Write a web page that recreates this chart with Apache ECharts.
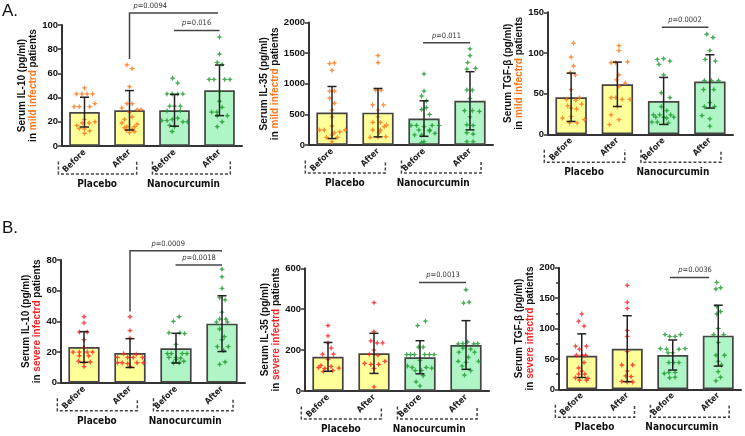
<!DOCTYPE html>
<html>
<head>
<meta charset="utf-8">
<script src="https://cdn.jsdelivr.net/npm/echarts@6/dist/echarts.min.js"></script>
<style>
html, body { margin: 0; padding: 0; background: #fff; }
#main { width: 745px; height: 436px; }
</style>
</head>
<body>
<div id="main"></div>
<script>
var cats = ['Before', 'After', 'Before', 'After'];
var groupNames = ['Placebo', 'Nanocurcumin'];

// A. mild patients
var il10MildMean = [28, 29.5, 29.5, 46];
var il10MildSd = [12.3, 16.3, 13.1, 20.9];
var il10MildPts = [
    [[0,48],[-0.53,43],[-0.17,43],[0.17,43],[0.53,43],[0.68,35],[-0.68,32.5],[-0.34,32.5],[0.34,32.5],[0,22],[0.68,20],[-0.15,19],[0.3,19],[-0.5,17],[-0.34,14.5],[0,14],[0.34,12.5],[0,10.5]],
    [[-0.17,67],[0.17,64],[0,49],[-0.17,35],[0.17,35],[-0.5,31.5],[0.5,30],[0.75,30],[0,28],[-0.33,22],[0.17,24],[-0.5,19],[0.5,18],[-0.17,16],[0.33,16],[-0.33,15],[0.17,14],[0,11],[0.33,12],[-0.2,13]],
    [[-0.13,56],[0.21,52],[-0.49,43],[-0.15,43],[0.21,43],[0.55,43],[-0.32,33],[0,33],[0.38,33],[-0.49,29],[0.38,29],[-0.83,21],[-0.49,21],[-0.15,22],[0.21,23],[0.55,20],[0.85,20],[-0.32,17],[0,16],[-0.15,12]],
    [[0,90],[0,76],[-0.15,69],[0.17,67.5],[-0.68,55],[-0.36,55],[0.34,55],[0.68,55],[0,45],[0,37],[0.17,32],[-0.51,28],[-0.17,28],[0.51,25],[-0.15,25],[0.17,20],[-0.15,16]]
];
var il10MildSig = [
    {p: '0.0094', x1: 1, x2: 2.97, y: 110, drop: 72, tx: 1.46},
    {p: '0.016', x1: 1.99, x2: 3, y: 95.5, tx: 2.49}
];

var il35MildMean = [530, 528, 432, 722];
var il35MildSd = [425, 395, 290, 475];
var il35MildPts = [
    [[-0.15,1330],[0.15,1340],[0,1220],[-0.15,880],[0.15,880],[-0.15,765],[0.15,680],[0,570],[0,460],[0,310],[-0.8,245],[-0.5,245],[0.85,245],[0.5,215],[-0.35,125],[0.35,125],[0,165],[0,55],[0.15,200]],
    [[0,1460],[0,1345],[-0.15,895],[0.2,895],[-0.35,655],[0.35,655],[0,570],[0,460],[-0.33,370],[0.15,370],[0.55,325],[0.4,300],[-0.33,245],[0.15,245],[-0.5,125],[0,125],[0.5,135],[0.1,210]],
    [[0,1160],[0,880],[-0.15,800],[0.15,720],[0.15,610],[-0.15,580],[0.35,500],[0,300],[-0.83,320],[-0.48,320],[0.52,320],[0.96,320],[-0.33,245],[0.37,245],[-0.6,165],[-0.15,165],[0.7,190],[0,55],[-0.15,40],[0.35,230]],
    [[0,1570],[0,1460],[-0.15,1345],[-0.2,1240],[0.35,1250],[-0.2,900],[0.15,895],[0,760],[-0.35,560],[0.15,560],[0.6,550],[0,460],[-0.2,330],[0.2,320],[-0.2,200],[0.2,180],[-0.2,55],[0.2,55]]
];
var il35MildSig = [
    {p: '0.011', x1: 1.98, x2: 3, y: 1671, tx: 2.49}
];

var tgfMildMean = [45.5, 61.5, 41, 65];
var tgfMildSd = [29.7, 27.3, 28.9, 32.8];
var tgfMildPts = [
    [[0.15,112],[0,95],[0.15,84],[-0.05,76],[0.27,73],[0,55],[-0.3,43],[0.3,42],[0.53,45],[-0.22,35],[0.67,37],[0,32],[0.35,31],[-0.55,20],[0,22],[0.85,18],[-0.1,14],[0.38,14]],
    [[0.1,109],[0.1,103],[-0.4,88],[-0.1,88],[0.65,89],[0.1,73],[-0.05,67],[0.5,63],[0.1,59],[-0.4,45],[-0.1,45],[0.3,43],[0.8,43],[0,34],[-0.4,24],[0.1,18],[-0.5,12]],
    [[-0.4,92],[0,93],[0.4,90],[-0.3,86],[0,73],[-0.15,51],[0.4,45],[-0.15,34],[0.2,29],[-0.65,24],[-0.25,24],[0.45,24],[-0.5,21],[0,21],[0.65,21],[-0.4,15],[0.3,14],[-0.75,15],[0.2,20]],
    [[-0.2,123],[0.2,119],[0,103],[-0.3,92],[0.35,90],[-0.35,66],[0.1,66],[0.55,66],[-0.4,55],[0.25,55],[0,39],[-0.35,34],[0.3,34],[-0.5,23],[0,19],[0,10]]
];
var tgfMildSig = [
    {p: '0.0002', x1: 1.96, x2: 2.97, y: 131.6, tx: 2.46}
];

// B. severe patients
var il10SevMean = [23.3, 19.3, 22.5, 38.5];
var il10SevSd = [10, 9.4, 9.7, 18.2];
var il10SevPts = [
    [[0,43],[0,39],[-0.3,33],[0.2,33],[0,28],[-0.7,20],[-0.3,20],[0.2,20],[0.55,20],[0,23],[-0.3,17.5],[0.3,17.5],[-0.35,14],[0,13],[0.4,13.5],[0,10.5]],
    [[0,43],[0,34],[0,29],[-0.4,19],[0.4,18.5],[-0.8,16.5],[-0.15,16.5],[0.2,16.5],[0.8,16.5],[-0.8,13],[-0.5,13],[-0.15,12.5],[0.45,13],[0.85,13],[0,10.5]],
    [[0.2,43],[-0.17,40],[-0.45,32.5],[0.25,32.5],[0.55,32],[0,25],[-0.55,19],[-0.3,19],[0.4,19],[0.7,19],[-0.45,16.5],[0,16.5],[0.3,16],[-0.17,13],[0.2,13],[0,15],[0.5,14]],
    [[0,74],[0,69],[0,61.5],[-0.15,55.5],[0.2,54],[0,46],[-0.15,41.5],[0.25,41.5],[-0.35,39.5],[0.35,39.5],[-0.15,35],[0.15,30],[0,28],[-0.3,23.5],[0.4,23.5],[0.1,21],[-0.15,12],[0.2,13.5]]
];
var il10SevSig = [
    {p: '0.0009', x1: 1, x2: 3, y: 86, drop: 46.5, tx: 1.83},
    {p: '0.0018', x1: 1.99, x2: 3, y: 76.7, tx: 2.5}
];

var il35SevMean = [167, 184, 165, 225];
var il35SevSd = [70.5, 98, 81, 119];
var il35SevPts = [
    [[0,320],[0,270],[0,235],[0.2,210],[-0.35,180],[0.35,180],[0,155],[-0.45,125],[-0.6,115],[0.2,120],[-0.2,110],[0.7,112],[-0.3,95],[0.3,100]],
    [[0,432],[0,290],[-0.2,245],[0.2,235],[0.55,235],[-0.3,180],[0,200],[0.25,175],[0.7,145],[-0.6,135],[-0.2,130],[0.3,130],[0,110],[0,20]],
    [[0.35,342],[-0.15,320],[-0.1,215],[0.2,215],[-0.85,178],[-0.6,178],[-0.35,178],[0.3,178],[0.6,178],[0.9,178],[0,150],[-0.8,122],[-0.5,115],[0.4,115],[0.75,112],[-0.3,100],[0.2,75],[-0.25,45],[0,25],[0.1,100]],
    [[0,495],[-0.15,430],[0.2,435],[0.1,240],[-0.5,230],[-0.2,232],[0.5,230],[0.75,232],[-0.2,210],[0.3,205],[-0.45,190],[0.55,190],[0.15,165],[-0.5,145],[0.8,145],[0,140],[-0.25,122],[0.3,100],[-0.1,78]]
];
var il35SevSig = [
    {p: '0.0013', x1: 1.98, x2: 3, y: 531, tx: 2.5}
];

var tgfSevMean = [55.3, 66.8, 56.4, 88.2];
var tgfSevSd = [35.9, 54.2, 24.7, 50.1];
var tgfSevPts = [
    [[0,124],[-0.2,112],[0.15,104],[-0.4,71],[0.3,71],[-0.15,66],[0,56],[-0.35,56],[0.25,56],[0.15,44],[-0.2,35],[0,30],[-0.2,25],[0.2,25],[-0.4,19],[0.3,15],[-0.15,15],[0.4,18]],
    [[0,171],[0,143],[0,133],[0,97],[0,87],[0,62],[-0.35,40],[0.35,40],[0,30],[-0.1,22],[0.25,21],[-0.35,13],[0.35,12],[0,12]],
    [[-0.5,90],[-0.2,87],[0.15,87],[0.5,90],[-0.8,67],[-0.4,66],[0.4,66],[0.8,67],[-0.3,60],[0,60],[-0.25,44],[0.05,44],[0.4,44],[-0.55,26],[-0.25,28],[0.15,28],[-0.2,19],[0.15,20]],
    [[-0.1,176],[-0.15,165],[0.15,167],[-0.1,136],[-0.1,124],[0.15,128],[0,100],[-0.3,90],[0.35,90],[0,77],[-0.15,56],[0.4,56],[0,46],[0.2,40],[0,29],[-0.15,14],[0.15,20]]
];
var tgfSevSig = [
    {p: '0.0036', x1: 1.94, x2: 2.8, y: 184, tx: 2.49}
];

var font = 'Liberation Sans, Arial, sans-serif';
var narrow = 'Liberation Sans Narrow, DejaVu Sans Condensed, Liberation Sans, sans-serif';
var axisColor = '#333';
var yellow = '#ffff99', green = '#b0f5c6';
var orange = '#ff7417', red = '#ff2020', dotGreen = '#1a9a2c';
var star = 'path://M0,-10 L3,-3 L10,0 L3,3 L0,10 L-3,3 L-10,0 L-3,-3 Z';

var panels = [
    {mean: il10MildMean, sd: il10MildSd, pts: il10MildPts, sig: il10MildSig, yMax: 100, yInt: 20,
     label: 'Serum IL-10 (pg/ml)', sev: 'mild', left: 62, top: 25, width: 180, height: 121, gap: 20},
    {mean: il35MildMean, sd: il35MildSd, pts: il35MildPts, sig: il35MildSig, yMax: 2000, yInt: 500,
     label: 'Serum IL-35 (pg/ml)', sev: 'mild', left: 309, top: 22.5, width: 184, height: 122.5, gap: 27},
    {mean: tgfMildMean, sd: tgfMildSd, pts: tgfMildPts, sig: tgfMildSig, yMax: 150, yInt: 50,
     label: 'Serum TGF-\u03b2 (pg/ml)', sev: 'mild', left: 548, top: 12.3, width: 185, height: 122, gap: 21},
    {mean: il10SevMean, sd: il10SevSd, pts: il10SevPts, sig: il10SevSig, yMax: 80, yInt: 20,
     label: 'Serum IL-10 (pg/ml)', sev: 'severe', left: 61, top: 260, width: 184, height: 122.7, gap: 14},
    {mean: il35SevMean, sd: il35SevSd, pts: il35SevPts, sig: il35SevSig, yMax: 600, yInt: 200,
     label: 'Serum IL-35 (pg/ml)', sev: 'severe', left: 305, top: 268.3, width: 184, height: 122.7, gap: 23},
    {mean: tgfSevMean, sd: tgfSevSd, pts: tgfSevPts, sig: tgfSevSig, yMax: 200, yInt: 50, minor: true,
     label: 'Serum TGF-\u03b2 (pg/ml)', sev: 'severe', left: 559, top: 267.7, width: 182, height: 121.6, gap: 20}
];

/**
 * 误差线: 均值 ± SD, 带上下横帽
 */
function errRender(params, api) {
    var x = api.value(0), m = api.value(1), s = api.value(2);
    var t = api.coord([x, m + s]), b = api.coord([x, m - s]);
    var w = 4.5;
    var st = {stroke: '#222', lineWidth: 1.5};
    return {
        type: 'group',
        children: [
            {type: 'line', shape: {x1: t[0], y1: t[1], x2: b[0], y2: b[1]}, style: st},
            {type: 'line', shape: {x1: t[0] - w, y1: t[1], x2: t[0] + w, y2: t[1]}, style: st},
            {type: 'line', shape: {x1: b[0] - w, y1: b[1], x2: b[0] + w, y2: b[1]}, style: st}
        ]
    };
}

var grids = [], xAxes = [], yAxes = [], series = [];
panels.forEach(function (p, k) {
    var sevColor = p.sev == 'mild' ? orange : red;
    grids.push({left: p.left, top: p.top, width: p.width, height: p.height});
    xAxes.push({
        gridIndex: k, type: 'category', data: cats,
        axisLine: {onZero: false, lineStyle: {color: axisColor, width: 2}},
        axisTick: {alignWithLabel: true, length: 4, lineStyle: {color: axisColor, width: 1.5}},
        axisLabel: {rotate: 45, fontSize: 8.5, fontWeight: 'bold', color: '#222', margin: 5, fontFamily: narrow}
    });
    xAxes.push({gridIndex: k, type: 'value', min: -0.5, max: 3.5, show: false});
    yAxes.push({
        gridIndex: k, type: 'value', min: 0, max: p.yMax, interval: p.yInt,
        axisLine: {show: true, onZero: false, lineStyle: {color: axisColor, width: 2}},
        axisTick: {show: true, length: 4, lineStyle: {color: axisColor, width: 1.5}},
        minorTick: {show: !!p.minor, splitNumber: 2, length: 3, lineStyle: {color: axisColor, width: 1.5}},
        splitLine: {show: false},
        axisLabel: {fontSize: 9.5, fontWeight: 'bold', color: '#111', margin: 4, fontFamily: font,
            formatter: function (v) { return String(v); }},
        name: '{a|' + p.label + '}\n{a|in }{c|' + p.sev + ' infectrd}{a| patients}',
        nameLocation: 'middle',
        nameGap: p.gap,
        nameTextStyle: {
            rich: {
                a: {fontSize: 10, fontWeight: 'bold', color: '#111', fontFamily: font, lineHeight: 11},
                c: {fontSize: 10, fontWeight: 'bold', color: sevColor, fontFamily: font, lineHeight: 11}
            }
        }
    });
    series.push({
        type: 'bar', xAxisIndex: 2 * k, yAxisIndex: k, barWidth: '68%', z: 1,
        data: p.mean.map(function (v, i) {
            return {value: v, itemStyle: {color: i < 2 ? yellow : green}};
        }),
        itemStyle: {borderColor: '#444', borderWidth: 1.7}
    });
    var sc = [];
    p.pts.forEach(function (g, i) {
        g.forEach(function (d) {
            sc.push({value: [i + d[0] * 0.34, d[1]], itemStyle: {color: i < 2 ? sevColor : dotGreen}});
        });
    });
    series.push({
        type: 'scatter', xAxisIndex: 2 * k + 1, yAxisIndex: k, symbol: star, symbolSize: 6, z: 3, data: sc
    });
    series.push({
        type: 'custom', xAxisIndex: 2 * k, yAxisIndex: k, z: 4, renderItem: errRender,
        data: p.mean.map(function (v, i) { return [i, v, p.sd[i]]; })
    });
});

var chart = echarts.init(document.getElementById('main'));
chart.setOption({
    animation: false,
    grid: grids,
    xAxis: xAxes,
    yAxis: yAxes,
    series: series
});

// 组括号, 组名, 显著性标记
var gr = [];
var dash = {stroke: '#444', lineWidth: 1.5, lineDash: [3, 2], fill: null};
var solid = {stroke: '#444', lineWidth: 1.5, fill: null};
var pRich = {
    i: {fontSize: 7.5, fontStyle: 'italic', fill: '#333', fontFamily: narrow},
    n: {fontSize: 7.5, fill: '#333', fontFamily: narrow}
};
panels.forEach(function (p, k) {
    var px = function (x) { return chart.convertToPixel({xAxisIndex: 2 * k + 1}, x); };
    var py = function (y) { return chart.convertToPixel({yAxisIndex: k}, y); };
    var y0 = py(0);
    var grp = [[0, 1, -0.58, 0.16, -0.22], [2, 3, -0.49, 0.24, -0.3]];
    grp.forEach(function (g, j) {
        var xa = px(g[0] + g[2]), xb = px(g[1] + g[3]);
        gr.push({type: 'polyline', silent: true,
            shape: {points: [[xa, y0 + 15.5], [xa, y0 + 28], [xb, y0 + 28], [xb, y0 + 15.5]]}, style: dash});
        gr.push({type: 'text', silent: true, x: px((g[0] + g[1]) / 2 + g[4]), y: y0 + 38.5,
            style: {text: groupNames[j], fontSize: 10, fontWeight: 'bold', fill: '#111', fontFamily: narrow,
                align: 'center', verticalAlign: 'middle'}});
    });
    p.sig.forEach(function (s) {
        var ys = py(s.y);
        var pts = [[px(s.x1), ys], [px(s.x2), ys]];
        if (s.drop != null) pts.unshift([px(s.x1), py(s.drop)]);
        gr.push({type: 'polyline', silent: true, shape: {points: pts}, style: solid});
        gr.push({type: 'text', silent: true, x: px(s.tx), y: ys - 7,
            style: {text: '{i|p}{n|=' + s.p + '}', rich: pRich, align: 'center', verticalAlign: 'middle'}});
    });
});
gr.push({type: 'text', left: 2, top: 3, style: {text: 'A.', fontSize: 17, fill: '#111', fontFamily: font}});
gr.push({type: 'text', left: 2, top: 220, style: {text: 'B.', fontSize: 17, fill: '#111', fontFamily: font}});
chart.setOption({graphic: gr});
</script>
</body>
</html>
